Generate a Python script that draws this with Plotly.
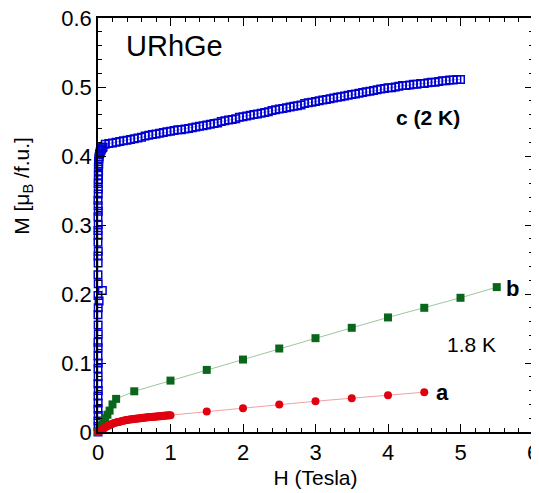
import plotly.graph_objects as go

# ---- data: c (2 K), open blue squares ----
c_H = [0.000, 0.002, 0.000, 0.003, 0.000, 0.002, 0.000, 0.004, 0.000, 0.002,
       0.000, 0.003, 0.000, 0.002, 0.000, 0.004, 0.002, 0.000, 0.003, 0.015,
       0.060, 0.000, 0.003, 0.000, 0.002, 0.000, 0.004, 0.000, 0.002, 0.000,
       0.003, 0.000, 0.004, 0.002, 0.000, 0.003, 0.005, 0.002, 0.006, 0.004,
       0.008, 0.005, 0.010, 0.008, 0.012, 0.015, 0.020, 0.025, 0.030, 0.040,
       0.050, 0.060, 0.070,
       0.10, 0.15, 0.20, 0.25, 0.30, 0.35, 0.40, 0.45, 0.50, 0.55,
       0.60, 0.65, 0.70, 0.75, 0.80, 0.85, 0.90, 0.95, 1.00, 1.05,
       1.10, 1.15, 1.20, 1.25, 1.30, 1.35, 1.40, 1.45, 1.50, 1.55,
       1.60, 1.65, 1.70, 1.75, 1.80, 1.85, 1.90, 1.95, 2.00, 2.05,
       2.10, 2.15, 2.20, 2.25, 2.30, 2.35, 2.40, 2.45, 2.50, 2.55,
       2.60, 2.65, 2.70, 2.75, 2.80, 2.85, 2.90, 2.95, 3.00, 3.05,
       3.10, 3.15, 3.20, 3.25, 3.30, 3.35, 3.40, 3.45, 3.50, 3.55,
       3.60, 3.65, 3.70, 3.75, 3.80, 3.85, 3.90, 3.95, 4.00, 4.05,
       4.10, 4.15, 4.20, 4.25, 4.30, 4.35, 4.40, 4.45, 4.50, 4.55,
       4.60, 4.65, 4.70, 4.75, 4.80, 4.85, 4.90, 4.95, 5.00]
c_M = [0.000, 0.008, 0.016, 0.024, 0.033, 0.042, 0.052, 0.060, 0.070, 0.080,
       0.092, 0.100, 0.110, 0.122, 0.130, 0.142, 0.155, 0.170, 0.180, 0.190,
       0.205, 0.198, 0.215, 0.228, 0.245, 0.255, 0.262, 0.275, 0.285, 0.292,
       0.300, 0.312, 0.320, 0.328, 0.336, 0.345, 0.352, 0.360, 0.366, 0.372,
       0.378, 0.384, 0.388, 0.392, 0.396, 0.399, 0.402, 0.404, 0.406, 0.408,
       0.410, 0.412, 0.413,
       0.417, 0.418, 0.419, 0.420, 0.421, 0.422, 0.423, 0.424, 0.425, 0.426,
       0.427, 0.429, 0.430, 0.431, 0.432, 0.433, 0.434, 0.435, 0.436, 0.437,
       0.438, 0.438, 0.439, 0.440, 0.441, 0.442, 0.443, 0.444, 0.445, 0.446,
       0.447, 0.448, 0.450, 0.451, 0.452, 0.453, 0.454, 0.456, 0.457, 0.458,
       0.459, 0.460, 0.461, 0.462, 0.463, 0.464, 0.466, 0.467, 0.468, 0.469,
       0.470, 0.471, 0.472, 0.473, 0.474, 0.476, 0.477, 0.478, 0.479, 0.480,
       0.481, 0.482, 0.483, 0.484, 0.485, 0.486, 0.487, 0.488, 0.489, 0.490,
       0.491, 0.492, 0.493, 0.494, 0.495, 0.496, 0.497, 0.498, 0.499, 0.499,
       0.500, 0.501, 0.502, 0.502, 0.503, 0.504, 0.504, 0.505, 0.505, 0.506,
       0.507, 0.507, 0.508, 0.509, 0.509, 0.510, 0.510, 0.511, 0.511]

# ---- data: b (1.8 K), filled green squares ----
b_H = [0.00, 0.02, 0.04, 0.06, 0.08, 0.10, 0.13, 0.16, 0.20, 0.25,
       0.50, 1.00, 1.50, 2.00, 2.50, 3.00, 3.50, 4.00, 4.50, 5.00, 5.50]
b_M = [0.000, 0.003, 0.007, 0.011, 0.016, 0.020, 0.025, 0.031, 0.040, 0.048,
       0.059, 0.0745, 0.090, 0.105, 0.121, 0.136, 0.151, 0.166, 0.180, 0.1945, 0.210]

# ---- data: a (1.8 K), filled red circles ----
a_H = [0.00, 0.02, 0.04, 0.06, 0.08, 0.10, 0.12, 0.14, 0.16, 0.18,
       0.20, 0.22, 0.24, 0.26, 0.28, 0.30, 0.32, 0.34, 0.36, 0.38,
       0.40, 0.42, 0.44, 0.46, 0.48, 0.50, 0.52, 0.54, 0.56, 0.58,
       0.60, 0.62, 0.64, 0.66, 0.68, 0.70, 0.72, 0.74, 0.76, 0.78,
       0.80, 0.82, 0.84, 0.86, 0.88, 0.90, 0.92, 0.94, 0.96, 0.98,
       1.00, 1.50, 2.00, 2.50, 3.00, 3.50, 4.00, 4.50]
a_M = [0.000, 0.001, 0.002, 0.004, 0.005, 0.007, 0.008, 0.009, 0.010, 0.011,
       0.012, 0.013, 0.0135, 0.014, 0.0145, 0.015, 0.0155, 0.016, 0.0165, 0.017,
       0.0173, 0.0176, 0.018, 0.0183, 0.0186, 0.019, 0.0192, 0.0195, 0.0197, 0.020,
       0.0202, 0.0205, 0.0207, 0.021, 0.0212, 0.0214, 0.0216, 0.0218, 0.022, 0.0222,
       0.0224, 0.0226, 0.0228, 0.023, 0.0232, 0.0234, 0.0236, 0.0238, 0.024, 0.0242,
       0.0244, 0.0297, 0.0345, 0.040, 0.0446, 0.049, 0.0533, 0.0577]

x_ticks = [0, 1, 2, 3, 4, 5, 6]
y_ticks = [0, 0.1, 0.2, 0.3, 0.4, 0.5, 0.6]
y_tick_labels = ["0", "0.1", "0.2", "0.3", "0.4", "0.5", "0.6"]

FONT = "Liberation Sans, Arial, sans-serif"

fig = go.Figure()
fig.add_trace(go.Scatter(
    x=c_H, y=c_M, mode="lines+markers", cliponaxis=False,
    line=dict(color="#a8a8f0", width=1),
    marker=dict(symbol="square-open", size=7.5, color="#0000d0",
                line=dict(width=1.5, color="#0000d0")),
    showlegend=False))
fig.add_trace(go.Scatter(
    x=b_H, y=b_M, mode="lines+markers", cliponaxis=False,
    line=dict(color="#9cc89c", width=1),
    marker=dict(symbol="square", size=8, color="#0a661a"),
    showlegend=False))
fig.add_trace(go.Scatter(
    x=a_H, y=a_M, mode="lines+markers", cliponaxis=False,
    line=dict(color="#f4a0a0", width=1),
    marker=dict(symbol="circle", size=8, color="#e00010"),
    showlegend=False))

annotations = [
    dict(x=1.05, y=0.560, text="URhGe", font=dict(size=29)),
    dict(x=4.55, y=0.4565, text="<b>c (2 K)</b>", font=dict(size=21)),
    dict(x=5.72, y=0.2075, text="<b>b</b>", font=dict(size=22)),
    dict(x=5.15, y=0.127, text="1.8 K", font=dict(size=21)),
    dict(x=4.75, y=0.0577, text="<b>a</b>", font=dict(size=22)),
]
for a in annotations:
    a.update(xref="x", yref="y", showarrow=False, xanchor="center", yanchor="middle")
    a["font"].update(family=FONT, color="black")

annotations.append(dict(
    x=-0.173, y=0.594, xref="paper", yref="paper", showarrow=False,
    text="M [μ<sub>B</sub> /f.u.]", textangle=-90,
    xanchor="center", yanchor="middle",
    font=dict(family=FONT, size=21, color="black")))

axis_common = dict(
    showline=True, linecolor="black", linewidth=1.5, mirror="ticks",
    ticks="inside", ticklen=8, tickwidth=1.2, tickcolor="black",
    showgrid=False, zeroline=False, automargin=False,
    ticklabeloverflow="allow",
    tickfont=dict(family=FONT, size=22, color="black"),
)

# the page places the figure 8 px in from the window's top-left corner
fig.update_layout(
    width=531, height=485,
    margin=dict(l=90, r=5.5, t=10, b=60.5, pad=0),
    paper_bgcolor="white", plot_bgcolor="white",
    xaxis=dict(range=[0, 6], tickvals=x_ticks,
               minor=dict(ticks="inside", dtick=0.2, ticklen=4, tickcolor="black", tickwidth=1.2),
               title=dict(text="H (Tesla)", font=dict(family=FONT, size=21, color="black"), standoff=6),
               **axis_common),
    yaxis=dict(range=[0, 0.6], tickvals=y_ticks, ticktext=y_tick_labels,
               minor=dict(ticks="inside", dtick=0.02, ticklen=4, tickcolor="black", tickwidth=1.2),
               **axis_common),
    annotations=annotations,
)

fig.write_html("out.html")
